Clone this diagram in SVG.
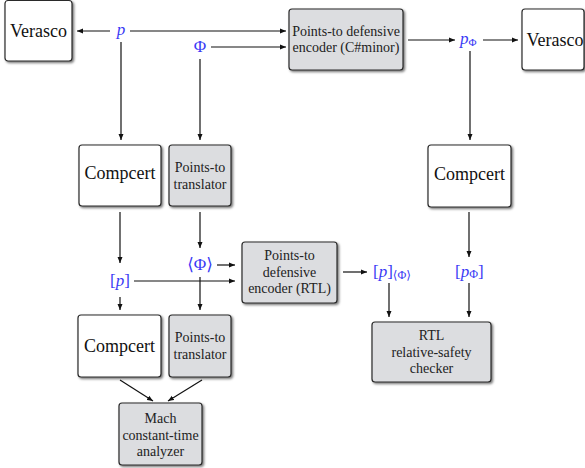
<svg xmlns="http://www.w3.org/2000/svg" width="585" height="468" viewBox="0 0 585 468">
<style>
.box{stroke:#2a2a2a;stroke-width:1.2;filter:url(#sh)}
.w{fill:#ffffff}
.g{fill:#dcdde0}
text{font-family:'Liberation Serif','Times New Roman','DejaVu Serif',serif}
.big{font-size:18px;fill:#111;text-anchor:middle}
.sm{font-size:14px;fill:#222;text-anchor:middle}
.m{font-size:17px;fill:#3a3af5}
.it{font-style:italic}
.c line{stroke:#111;stroke-width:1.2;marker-end:url(#ah)}
</style>
<defs>
<filter id="sh" x="-10%" y="-10%" width="130%" height="130%">
<feDropShadow dx="1.5" dy="1.5" stdDeviation="0.9" flood-color="#000" flood-opacity="0.55"/>
</filter>
<marker id="ah" markerUnits="userSpaceOnUse" markerWidth="7" markerHeight="6" refX="6" refY="3" orient="auto">
<path d="M0,0.5 L6,3 L0,5.5 Z" fill="#111"/>
</marker>
</defs>
<rect width="585" height="468" fill="#fff"/>

<g id="verasco-left"><rect class="box w" x="5" y="0.5" width="67" height="60.5" rx="3"/><text class="big" x="38.5" y="37" font-family="Liberation Serif">Verasco</text></g>
<g id="encoder-cminor"><rect class="box g" x="289" y="9" width="114" height="61" rx="3"/><text class="sm" x="346" y="35.5">Points-to defensive</text><text class="sm" x="346" y="51.5">encoder (C#minor)</text></g>
<g id="verasco-right"><rect class="box w" x="522" y="9" width="62" height="61" rx="3"/><text class="big" x="555" y="46">Verasco</text></g>
<g id="compcert-1"><rect class="box w" x="79" y="145" width="82" height="61" rx="3"/><text class="big" x="120" y="179">Compcert</text></g>
<g id="translator-1"><rect class="box g" x="169" y="145" width="62" height="61" rx="3"/><text class="sm" x="200" y="172">Points-to</text><text class="sm" x="200" y="189">translator</text></g>
<g id="compcert-right"><rect class="box w" x="428" y="145" width="83" height="62" rx="3"/><text class="big" x="469.5" y="179.5">Compcert</text></g>
<g id="encoder-rtl"><rect class="box g" x="242" y="242" width="95" height="61" rx="3"/><text class="sm" x="289.5" y="260">Points-to</text><text class="sm" x="289.5" y="276.5">defensive</text><text class="sm" x="289.5" y="293">encoder (RTL)</text></g>
<g id="rtl-checker"><rect class="box g" x="372" y="322" width="119" height="60" rx="3"/><text class="sm" x="431.5" y="340">RTL</text><text class="sm" x="431.5" y="357">relative-safety</text><text class="sm" x="431.5" y="373">checker</text></g>
<g id="compcert-2"><rect class="box w" x="78" y="315" width="83" height="62" rx="3"/><text class="big" x="119.5" y="352">Compcert</text></g>
<g id="translator-2"><rect class="box g" x="169" y="315" width="62" height="62" rx="3"/><text class="sm" x="200" y="342">Points-to</text><text class="sm" x="200" y="359">translator</text></g>
<g id="mach"><rect class="box g" x="119" y="403" width="83" height="62" rx="3"/><text class="sm" x="160.5" y="423">Mach</text><text class="sm" x="160.5" y="440">constant-time</text><text class="sm" x="160.5" y="456">analyzer</text></g>

<g id="labels">
<text class="m it" x="121" y="35" text-anchor="middle">p</text>
<text class="m" x="200" y="52" text-anchor="middle">Φ</text>
<text class="m" x="460" y="44"><tspan class="it">p</tspan><tspan font-size="11" dy="2">Φ</tspan></text>
<text class="m" x="120" y="286" text-anchor="middle">[<tspan class="it">p</tspan>]</text>
<text class="m" x="200" y="270" text-anchor="middle">⟨Φ⟩</text>
<text class="m" x="373" y="277">[<tspan class="it">p</tspan>]<tspan font-size="12" dy="2">⟨Φ⟩</tspan></text>
<text class="m" x="455" y="277">[<tspan class="it">p</tspan><tspan font-size="12" dy="1">Φ</tspan><tspan dy="-1">]</tspan></text>
</g>

<g id="connectors" class="c">
<line x1="110" y1="31" x2="77" y2="31"/>
<line x1="130" y1="31" x2="286" y2="31"/>
<line x1="211" y1="47" x2="286" y2="47"/>
<line x1="121" y1="42" x2="121" y2="140"/>
<line x1="200" y1="59" x2="200" y2="140"/>
<line x1="408" y1="40" x2="455" y2="40"/>
<line x1="483" y1="40" x2="518" y2="40"/>
<line x1="470" y1="51" x2="470" y2="140"/>
<line x1="120" y1="212" x2="120" y2="263"/>
<line x1="200" y1="212" x2="200" y2="248"/>
<line x1="217" y1="265" x2="235" y2="265"/>
<line x1="134" y1="281" x2="235" y2="281"/>
<line x1="120" y1="297" x2="120" y2="310"/>
<line x1="200" y1="277" x2="200" y2="310"/>
<line x1="343" y1="272" x2="367" y2="272"/>
<line x1="469" y1="212" x2="469" y2="257"/>
<line x1="389" y1="283" x2="389" y2="317"/>
<line x1="469" y1="283" x2="469" y2="317"/>
<line x1="120" y1="380" x2="153" y2="401"/>
<line x1="202" y1="380" x2="168" y2="401"/>
</g>
</svg>
